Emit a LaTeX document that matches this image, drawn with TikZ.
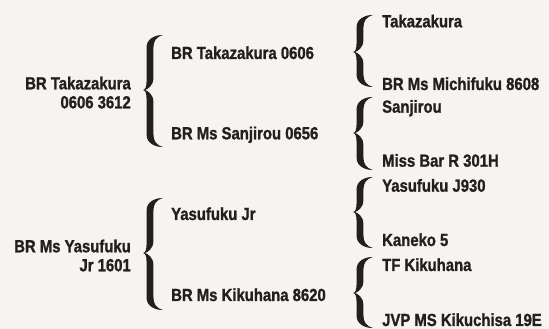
\documentclass[tikz,border=0pt]{standalone}
\usepackage{fontspec}
\newfontfamily\horsefont{Liberation Sans Bold}[FakeStretch=0.85,FakeBold=1.2]
\definecolor{cpaper}{RGB}{247,243,240}
\definecolor{cink}{RGB}{35,31,32}
\tikzset{
  pedigree/.style={x=1pt,y=1pt,font=\horsefont\fontsize{17.5}{19}\selectfont},
  horse/.style={inner sep=0pt,text=cink},
  % filled curly brace: tip at origin, #1 = reach up, #2 = reach down
  pics/cbrace/.style 2 args={code={
    \fill[cink] (20,#1) .. controls (12,#1+0.2) and (3.6,#1-4) .. (3.6,#1-12)
      -- (3.6,10) .. controls (3.6,3) and (2.5,0.4) .. (0,0)
      .. controls (2.5,-0.4) and (3.6,-3) .. (3.6,-10)
      -- (3.6,-#2+12) .. controls (3.6,-#2+4) and (12,-#2-0.2) .. (20,-#2)
      .. controls (13,-#2+2) and (10.4,-#2+6) .. (10.4,-#2+13)
      -- (10.4,-12) .. controls (10.4,-4) and (4.5,-1) .. (2.2,0)
      .. controls (4.5,1) and (10.4,4) .. (10.4,12)
      -- (10.4,#1-13) .. controls (10.4,#1-6) and (13,#1-2) .. (20,#1) -- cycle;
  }}
}

\begin{document}
\begin{tikzpicture}[pedigree]
    \fill[cpaper] (0,0) rectangle (549,329);
    \useasboundingbox (0,0) rectangle (549,329);
    % first generation
    \node[horse,anchor=east,align=right] (sire) at (131,236.4) {BR Takazakura\\0606 3612};
    \node[horse,anchor=east,align=right] (dam)  at (131,73.5)  {BR Ms Yasufuku\\Jr 1601};
    % second generation
    \node[horse,anchor=base west] (ss) at (171,270)   {BR Takazakura 0606};
    \node[horse,anchor=base west] (sd) at (171,189.7) {BR Ms Sanjirou 0656};
    \node[horse,anchor=base west] (ds) at (171,109)   {Yasufuku Jr};
    \node[horse,anchor=base west] (dd) at (171,28)    {BR Ms Kikuhana 8620};
    % third generation
    \node[horse,anchor=base west] (sss) at (382,301.7) {Takazakura};
    \node[horse,anchor=base west] (ssd) at (382,239)   {BR Ms Michifuku 8608};
    \node[horse,anchor=base west] (sds) at (382,216.3) {Sanjirou};
    \node[horse,anchor=base west] (sdd) at (382,162.3) {Miss Bar R 301H};
    \node[horse,anchor=base west] (dss) at (382,137.3) {Yasufuku J930};
    \node[horse,anchor=base west] (dsd) at (382,83)    {Kaneko 5};
    \node[horse,anchor=base west] (dds) at (382,58)    {TF Kikuhana};
    \node[horse,anchor=base west] (ddd) at (382,3)     {JVP MS Kikuchisa 19E};
    % braces
    \pic at (143,239) {cbrace={55}{57}};
    \pic at (143,76)  {cbrace={55}{57}};
    \pic at (353,277) {cbrace={37}{35}};
    \pic at (353,196) {cbrace={36}{37}};
    \pic at (353,117) {cbrace={35}{36}};
    \pic at (353,36)  {cbrace={36}{35}};
\end{tikzpicture}
\end{document}
